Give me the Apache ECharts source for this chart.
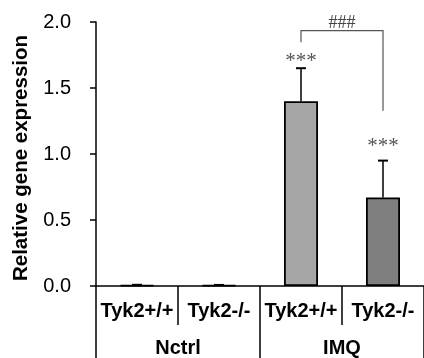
<!DOCTYPE html>
<html><head><meta charset="utf-8">
<script src="https://cdn.jsdelivr.net/npm/echarts@6/dist/echarts.min.js"></script>
<style>html,body{margin:0;padding:0;background:#fff}#c{width:424px;height:358px}</style>
</head><body><div id="c"></div>
<script>
const groups = ['Nctrl', 'IMQ'];
const categories = ['Tyk2+/+', 'Tyk2-/-', 'Tyk2+/+', 'Tyk2-/-'];
const means = [0.007, 0.006, 1.40, 0.67];
const errUpper = [0.002, 0.002, 0.25, 0.28];
const sigLabels = ['', '', '***', '***'];
const sigLevels = [null, null, 1.745, 1.10];
const yTicks = [0, 0.5, 1.0, 1.5, 2.0];
const yTitle = 'Relative gene expression';
const bracketFrom = 2, bracketTo = 3;
const bracketTop = 1.934, bracketLeftEnd = 1.846, bracketRightEnd = 1.328;
const bracketLabel = '###';

const fillColors = ['#a6a6a6', '#7f7f7f', '#a6a6a6', '#7f7f7f'];
const chart = echarts.init(document.getElementById('c'), null, {renderer: 'canvas'});
const sans = '"Liberation Sans", Arial, sans-serif';
const serif = '"Liberation Serif", "Times New Roman", serif';

chart.setOption({
  animation: false,
  graphic: [{
    type: 'text', x: 21, y: 158, rotation: Math.PI / 2,
    style: {text: yTitle, align: 'center', verticalAlign: 'middle', font: 'bold 20.5px ' + sans, fill: '#000'}
  }],
  grid: {left: 96, top: 22, width: 336, height: 264},
  xAxis: [{
    type: 'category', data: categories, position: 'bottom',
    axisLine: {lineStyle: {color: '#000', width: 1.5}},
    axisTick: {show: true, length: 39, alignWithLabel: false, lineStyle: {color: '#000', width: 1.5}},
    axisLabel: {interval: 0, margin: 15, fontSize: 20, lineHeight: 20, fontWeight: 'bold', fontFamily: sans, color: '#000'}
  }, {
    type: 'category', data: groups, position: 'bottom', offset: 0,
    axisLine: {show: false},
    axisTick: {show: true, length: 72, alignWithLabel: false, lineStyle: {color: '#000', width: 1.5}},
    axisLabel: {interval: 0, margin: 52, fontSize: 20, lineHeight: 20, fontWeight: 'bold', fontFamily: sans, color: '#000'}
  }],
  yAxis: {
    type: 'value', min: 0, max: 2, interval: 0.5,
    axisLine: {show: true, lineStyle: {color: '#000', width: 1.5}},
    axisTick: {show: true, inside: false, length: 6, lineStyle: {color: '#000', width: 1.5}},
    splitLine: {show: false},
    axisLabel: {margin: 25, fontSize: 20, fontFamily: sans, color: '#000',
      formatter: v => yTicks.indexOf(v) >= 0 ? v.toFixed(1) : ''}
  },
  series: [{
    type: 'bar', xAxisIndex: 0, data: means, barWidth: 34,
    itemStyle: {color: p => fillColors[p.dataIndex], borderColor: '#000', borderWidth: 1.8}
  }, {
    type: 'custom', xAxisIndex: 0, z: 3,
    data: means.map((m, i) => [i, m, m + errUpper[i]]),
    renderItem: (params, api) => {
      const base = api.coord([api.value(0), api.value(1)]);
      const top = api.coord([api.value(0), api.value(2)]);
      return {type: 'group', children: [
        {type: 'line', shape: {x1: base[0], y1: base[1], x2: top[0], y2: top[1]}, style: {stroke: '#000', lineWidth: 1.5}},
        {type: 'line', shape: {x1: top[0] - 5, y1: top[1], x2: top[0] + 5, y2: top[1]}, style: {stroke: '#000', lineWidth: 2}}
      ]};
    }
  }, {
    type: 'custom', xAxisIndex: 0, z: 4,
    data: sigLabels.map((s, i) => [i, sigLevels[i] == null ? 0 : sigLevels[i], s]).filter(d => d[2]),
    renderItem: (params, api) => {
      const p = api.coord([api.value(0), api.value(1)]);
      return {type: 'text', style: {text: sigLabels[api.value(0)], x: p[0], y: p[1] + 6, align: 'center', verticalAlign: 'middle',
        font: '21px ' + serif, fill: '#555'}};
    }
  }, {
    type: 'custom', xAxisIndex: 0, z: 4,
    data: [[bracketFrom, bracketTo, bracketTop, bracketLeftEnd, bracketRightEnd]],
    renderItem: (params, api) => {
      const a = api.coord([api.value(0), api.value(2)]);
      const b = api.coord([api.value(1), api.value(2)]);
      const la = api.coord([api.value(0), api.value(3)]);
      const rb = api.coord([api.value(1), api.value(4)]);
      return {type: 'group', children: [
        {type: 'polyline', shape: {points: [[la[0], la[1]], [a[0], a[1]], [b[0], b[1]], [rb[0], rb[1]]]}, style: {stroke: '#555', lineWidth: 1.2, fill: null}},
        {type: 'text', style: {text: bracketLabel, x: (a[0] + b[0]) / 2, y: a[1] + 2, align: 'center', verticalAlign: 'bottom', font: '18px ' + serif, fill: '#444'}}
      ]};
    }
  }]
});
</script></body></html>
